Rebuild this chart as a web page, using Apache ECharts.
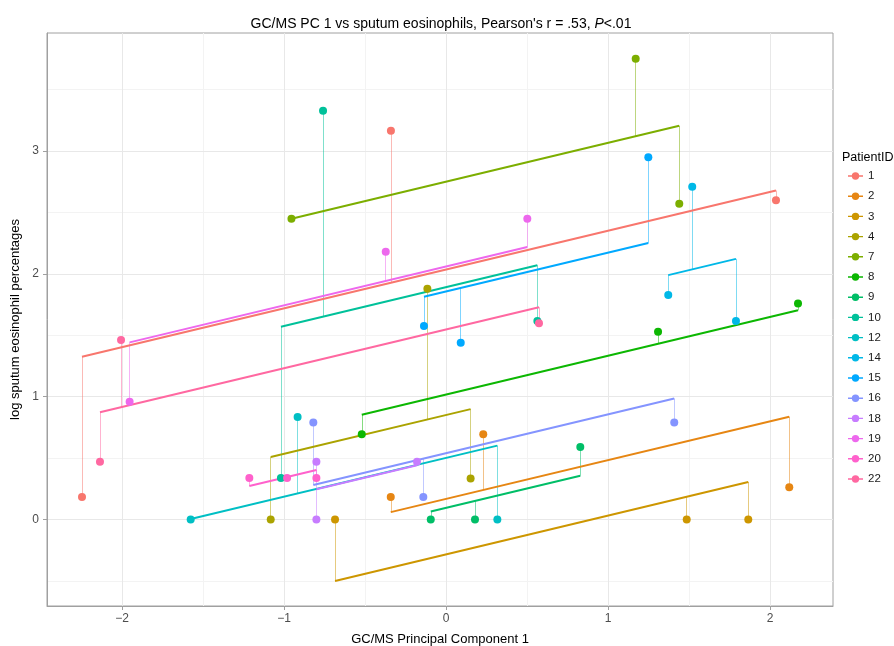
<!DOCTYPE html>
<html>
<head>
<meta charset="utf-8">
<title>GC/MS PC 1 vs sputum eosinophils</title>
<script src="https://cdn.jsdelivr.net/npm/echarts@6.0.0/dist/echarts.min.js"></script>
<style>
    html, body {margin: 0; padding: 0; background: #fff;}
    #main {width: 894px; height: 646px;}
</style>
</head>
<body>
<div id="main"></div>
<script>
// patients and their ggplot hue colours
const patients = ['1', '2', '3', '4', '7', '8', '9', '10', '12', '14', '15', '16', '18', '19', '20', '22'];
const colors = ['#F8766D', '#E68613', '#CD9600', '#ABA300', '#7CAE00', '#0CB702', '#00BE67', '#00C19A',
    '#00BFC4', '#00B8E7', '#00A9FF', '#8494FF', '#C77CFF', '#ED68ED', '#FF61CC', '#FF68A1'];

// GC/MS PC 1 per patient
const pc1 = [
    [-2.247, -0.340, 2.037],
    [-0.341, 0.230, 2.119],
    [-0.685, 1.486, 1.866],
    [-1.082, -0.115, 0.152],
    [-0.954, 1.171, 1.440],
    [-0.520, 1.309, 2.173],
    [-0.094, 0.179, 0.829],
    [-1.019, -0.759, 0.564],
    [-1.576, -0.916, 0.317],
    [1.372, 1.520, 1.790],
    [-0.136, 0.091, 1.249],
    [-0.819, -0.140, 1.409],
    [-0.800, -0.800, -0.179],
    [-1.953, -0.372, 0.502],
    [-1.214, -0.981, -0.800],
    [-2.136, -2.006, 0.574]
];
// log sputum eosinophil percentages per patient
const eos = [
    [0.183, 3.166, 2.600],
    [0.183, 0.694, 0.262],
    [0, 0, 0],
    [0, 1.879, 0.335],
    [2.450, 3.752, 2.572],
    [0.694, 1.529, 1.760],
    [0, 0, 0.590],
    [0.338, 3.329, 1.616],
    [0, 0.835, 0],
    [1.828, 2.710, 1.616],
    [1.576, 1.440, 2.950],
    [0.791, 0.183, 0.791],
    [0.471, 0, 0.471],
    [0.959, 2.181, 2.450],
    [0.338, 0.338, 0.338],
    [0.471, 1.462, 1.598]
];
// fitted model: common slope, patient intercepts
const slope = 0.316;
const intercepts = [2.036, 0.168, -0.284, 0.851, 2.751, 1.017, 0.095, 1.892,
    0.502, 1.557, 1.858, 0.540, 0.499, 2.060, 0.657, 1.548];

const xTicks = [-2, -1, 0, 1, 2];
const xMinor = [-1.5, -0.5, 0.5, 1.5];
const yTicks = [0, 1, 2, 3];
const yMinor = [-0.5, 0.5, 1.5, 2.5, 3.5];

function fitted(i, x) {
    return intercepts[i] + slope * x;
}
function fmt(v) {
    return v < 0 ? '\u2212' + Math.abs(v) : String(v);
}

let gridLines = [];
xMinor.forEach(v => gridLines.push({xAxis: v, lineStyle: {color: '#f3f3f3', width: 1}}));
yMinor.forEach(v => gridLines.push({yAxis: v, lineStyle: {color: '#f3f3f3', width: 1}}));
xTicks.forEach(v => gridLines.push({xAxis: v, lineStyle: {color: '#e8e8e8', width: 1}}));
yTicks.forEach(v => gridLines.push({yAxis: v, lineStyle: {color: '#e8e8e8', width: 1}}));

let series = [{
    name: 'grid', type: 'line', data: [], z: 0, silent: true,
    markLine: {
        silent: true, symbol: 'none', z: 0, animation: false,
        label: {show: false}, lineStyle: {type: 'solid'},
        data: gridLines
    }
}];

patients.forEach(function (id, i) {
    let xs = pc1[i];
    let pts = xs.map((x, j) => [x, eos[i][j]]);
    let segs = xs.map((x, j) => [{coord: [x, eos[i][j]]}, {coord: [x, fitted(i, x)]}]);
    let x0 = Math.min.apply(null, xs);
    let x1 = Math.max.apply(null, xs);
    series.push({
        name: id,
        type: 'scatter',
        z: 4,
        symbolSize: 8,
        data: pts,
        itemStyle: {color: colors[i], opacity: 1},
        emphasis: {disabled: true},
        markLine: {
            silent: true, symbol: 'none', z: 2, animation: false,
            label: {show: false},
            emphasis: {disabled: true},
            lineStyle: {color: colors[i], width: 1, type: 'solid', opacity: 0.5},
            data: segs
        }
    });
    series.push({
        name: id,
        type: 'line',
        z: 3,
        symbol: 'none',
        data: [[x0, fitted(i, x0)], [x1, fitted(i, x1)]],
        lineStyle: {color: colors[i], width: 2},
        itemStyle: {color: colors[i]},
        emphasis: {disabled: true}
    });
});

const font = 'Liberation Sans, Arial, sans-serif';
let option = {
    animation: false,
    backgroundColor: '#fff',
    textStyle: {fontFamily: font},
    title: [{
        text: '{a|GC/MS PC 1 vs sputum eosinophils, Pearson\'s r = .53, }{i|P}{a|<.01}',
        left: 436,
        top: 12,
        textAlign: 'center',
        textStyle: {
            fontWeight: 'normal',
            rich: {
                a: {fontSize: 14, color: '#000', fontFamily: font, fontWeight: 'normal'},
                i: {fontSize: 14, color: '#000', fontFamily: font, fontWeight: 'normal', fontStyle: 'italic'}
            }
        }
    }, {
        text: 'PatientID',
        left: 837,
        top: 146,
        textStyle: {fontSize: 12.5, fontWeight: 'normal', color: '#000', fontFamily: font}
    }],
    legend: {
        orient: 'vertical',
        left: 843,
        top: 165,
        itemWidth: 15,
        itemHeight: 14,
        itemGap: 8.2,
        icon: 'path://M0,3.3H15V4.7H0Z M3.8,4A3.7,3.7 0 1 1 11.2,4A3.7,3.7 0 1 1 3.8,4Z',
        selectedMode: false,
        textStyle: {fontSize: 11.5, color: '#1a1a1a', fontFamily: font},
        data: patients.map((id, i) => ({name: id, itemStyle: {color: colors[i]}}))
    },
    grid: {
        left: 47, right: 61, top: 33, bottom: 40,
        show: true, borderColor: '#a0a0a0', borderWidth: 1,
        outerBoundsMode: 'none'
    },
    xAxis: {
        type: 'value',
        min: -2.463,
        max: 2.389,
        name: 'GC/MS Principal Component 1',
        nameLocation: 'middle',
        nameGap: 27,
        nameTextStyle: {fontSize: 13, color: '#000', fontFamily: font},
        axisLine: {onZero: false, lineStyle: {color: '#a0a0a0', width: 1}},
        axisTick: {customValues: xTicks, length: 4, lineStyle: {color: '#a0a0a0'}},
        axisLabel: {customValues: xTicks, color: '#4d4d4d', fontSize: 12, margin: 7, formatter: fmt},
        splitLine: {show: false}
    },
    yAxis: {
        type: 'value',
        min: -0.704,
        max: 3.962,
        name: 'log sputum eosinophil percentages',
        nameLocation: 'middle',
        nameGap: 25,
        nameTextStyle: {fontSize: 13, color: '#000', fontFamily: font},
        axisLine: {show: true, onZero: false, lineStyle: {color: '#a0a0a0', width: 1}},
        axisTick: {show: true, customValues: yTicks, length: 4, lineStyle: {color: '#a0a0a0'}},
        axisLabel: {customValues: yTicks, color: '#4d4d4d', fontSize: 12, margin: 8, formatter: fmt},
        splitLine: {show: false}
    },
    series: series
};

let myChart = echarts.init(document.getElementById('main'));
myChart.setOption(option);
</script>
</body>
</html>
